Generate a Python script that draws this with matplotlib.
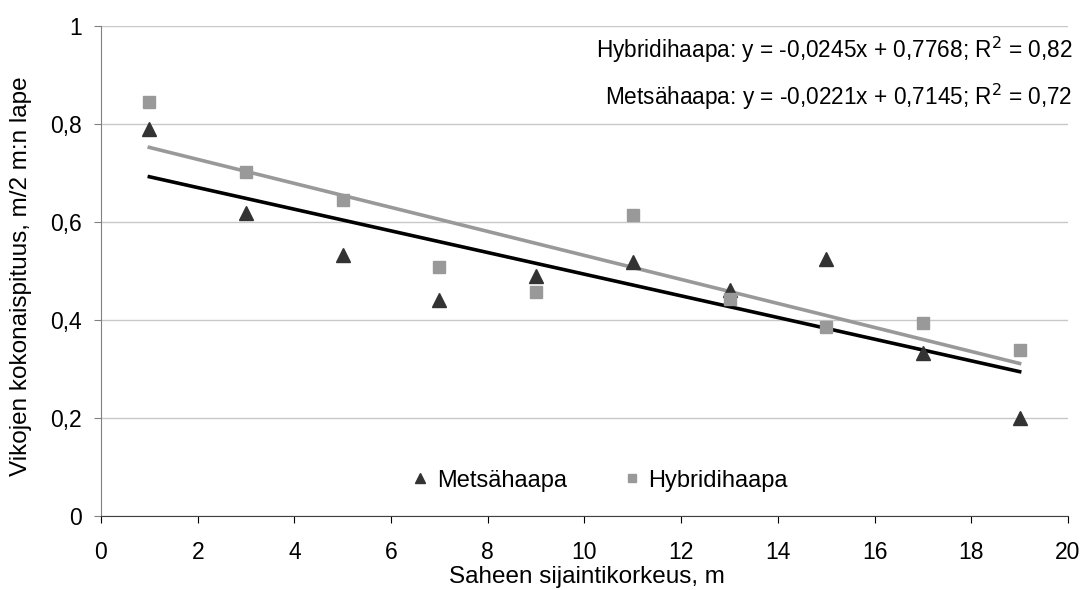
import matplotlib
matplotlib.use("Agg")
import matplotlib.pyplot as plt
import numpy as np
from matplotlib.ticker import FuncFormatter

plt.rcParams['font.family'] = ['Liberation Sans', 'DejaVu Sans']

# Sawing height (m)
heights = [1, 3, 5, 7, 9, 11, 13, 15, 17, 19]
# Total defect length, m per 2 m of board face
metsahaapa = [0.790, 0.619, 0.533, 0.441, 0.490, 0.518, 0.461, 0.524, 0.333, 0.200]
hybridihaapa = [0.845, 0.702, 0.645, 0.508, 0.457, 0.614, 0.443, 0.386, 0.394, 0.339]

# Linear trend coefficients (slope, intercept, R^2)
fit_hybridi = (-0.0245, 0.7768, 0.82)
fit_metsa = (-0.0221, 0.7145, 0.72)

x_ticks = [0, 2, 4, 6, 8, 10, 12, 14, 16, 18, 20]
y_ticks = [0, 0.2, 0.4, 0.6, 0.8, 1.0]

fig = plt.figure(figsize=(10.86, 5.90), dpi=100)
ax = fig.add_axes([0.093, 0.1254, 0.8904, 0.8305])

ax.set_xlim(0, 20)
ax.set_ylim(0, 1)
ax.set_xticks(x_ticks)
ax.set_yticks(y_ticks)

def fi_num(v, pos):
    s = f"{v:.1f}".rstrip('0').rstrip('.')
    return s.replace('.', ',')

ax.yaxis.set_major_formatter(FuncFormatter(fi_num))

ax.grid(axis='y', color='#c8c8c8', linewidth=1.0)
ax.set_axisbelow(True)
for side in ('top', 'right'):
    ax.spines[side].set_visible(False)
ax.spines['left'].set_color('#808080')
ax.spines['bottom'].set_color('#404040')
ax.tick_params(axis='both', direction='out', length=5, width=0.8, labelsize=16.5,
               colors='#000000')
ax.tick_params(axis='x', pad=13)
ax.tick_params(axis='y', pad=8.5, color='#808080')

# Trend lines from the stated equations
xl = np.array([heights[0], heights[-1]], dtype=float)
ax.plot(xl, fit_hybridi[0] * xl + fit_hybridi[1], color='#999999', linewidth=2.6, zorder=2)
ax.plot(xl, fit_metsa[0] * xl + fit_metsa[1], color='#000000', linewidth=2.6, zorder=2)

ax.plot(heights, metsahaapa, linestyle='none', marker='^', markersize=9.5,
        color='#333333', label='Metsähaapa', zorder=3)
ax.plot(heights, hybridihaapa, linestyle='none', marker='s', markersize=8.3,
        color='#999999', label='Hybridihaapa', zorder=3)

def eq_text(name, fit):
    a, b, r2 = fit
    fmt = lambda v, d: f"{v:.{d}f}".replace('.', ',')
    return f"{name}: y = {fmt(a, 4)}x + {fmt(b, 4)}; R$^2$ = {fmt(r2, 2)}"

ax.text(1.005, 0.951, eq_text('Hybridihaapa', fit_hybridi), transform=ax.transAxes,
        ha='right', va='center', fontsize=16.3)
ax.text(1.005, 0.855, eq_text('Metsähaapa', fit_metsa), transform=ax.transAxes,
        ha='right', va='center', fontsize=16.3)

ax.legend(loc='center', bbox_to_anchor=(0.516, 0.072), ncol=2, frameon=False,
          fontsize=17, handlelength=0.7, handletextpad=0.35, columnspacing=2.4,
          markerscale=0.75, borderpad=0, borderaxespad=0)

ax.set_xlabel('Saheen sijaintikorkeus, m', fontsize=17.5)
ax.xaxis.set_label_coords(0.503, -0.103)
ax.set_ylabel('Vikojen kokonaispituus, m/2 m:n lape', fontsize=17.5)
ax.yaxis.set_label_coords(-0.071, 0.49)

fig.savefig('out.png', dpi=100, facecolor='white')
